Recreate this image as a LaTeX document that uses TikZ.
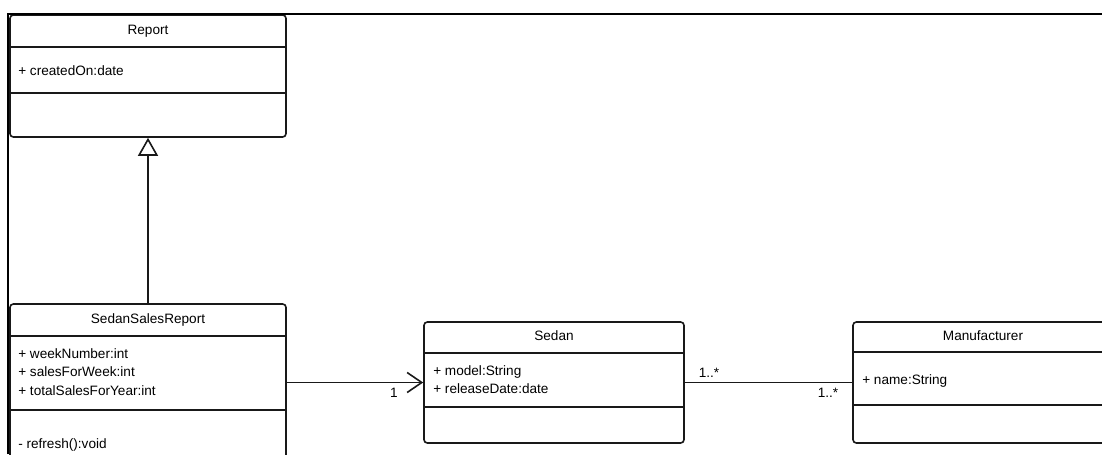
\documentclass[tikz,border=0pt]{standalone}
\usepackage{fontspec}
\setmainfont{Liberation Sans}
\usetikzlibrary{arrows.meta}
\newcommand\umlfont{\fontsize{10.2pt}{13.9pt}\selectfont}
\begin{document}
\begin{tikzpicture}[x=0.75pt,y=-0.75pt,
  classbox/.style={draw=black!90, line width=1.2pt, rounded corners=2.5pt, inner sep=0pt, fill=white},
  divider/.style={draw=black!90, line width=1.2pt},
  txt/.style={inner sep=0pt, font=\umlfont, text=black},
  title/.style={txt, anchor=base},
  member/.style={txt, anchor=base west},
  conn/.style={draw=black!90, line width=1.2pt},
  frameline/.style={draw=black, line width=1.6pt}
]
\useasboundingbox (0,0) rectangle (1102,454);
\fill[white] (0,0) rectangle (1102,454);
\clip (0,0) rectangle (1102,454);

% class boxes
\node[classbox, minimum width=207pt, minimum height=91.5pt]   (report) at (148,76) {};
\node[classbox, minimum width=207pt, minimum height=128.25pt] (ssr)    at (148,389.5) {};
\node[classbox, minimum width=195pt, minimum height=90.75pt]  (sedan)  at (554,382.5) {};
\node[classbox, minimum width=195pt, minimum height=90.75pt]  (mfr)    at (983,382.5) {};

% compartment dividers
\draw[divider] ([yshift=-24.75pt]report.north west) -- ([yshift=-24.75pt]report.north east);
\draw[divider] ([yshift=-59.25pt]report.north west) -- ([yshift=-59.25pt]report.north east);
\draw[divider] ([yshift=-24.75pt]ssr.north west) -- ([yshift=-24.75pt]ssr.north east);
\draw[divider] ([yshift=-80.25pt]ssr.north west) -- ([yshift=-80.25pt]ssr.north east);
\draw[divider] ([yshift=-24pt]sedan.north west) -- ([yshift=-24pt]sedan.north east);
\draw[divider] ([yshift=-64.5pt]sedan.north west) -- ([yshift=-64.5pt]sedan.north east);
\draw[divider] ([yshift=-23.25pt]mfr.north west) -- ([yshift=-23.25pt]mfr.north east);
\draw[divider] ([yshift=-63pt]mfr.north west) -- ([yshift=-63pt]mfr.north east);

% Report
\node[title]  (report-name) at (148,34) {Report};
\node[member] (report-a1)   at (18,75)  {+ createdOn:date};

% SedanSalesReport
\node[title]  (ssr-name) at (148,323) {SedanSalesReport};
\node[member] (ssr-a1)   at (18,358)  {+ weekNumber:int};
\node[member] (ssr-a2)   at (18,376.5) {+ salesForWeek:int};
\node[member] (ssr-a3)   at (18,395)  {+ totalSalesForYear:int};
\node[member] (ssr-m1)   at (18,448)  {- refresh():void};

% Sedan
\node[title]  (sedan-name) at (554,340) {Sedan};
\node[member] (sedan-a1)   at (433,375) {+ model:String};
\node[member] (sedan-a2)   at (433,393.5) {+ releaseDate:date};

% Manufacturer
\node[title]  (mfr-name) at (983,340) {Manufacturer};
\node[member] (mfr-a1)   at (862,384) {+ name:String};

% relationships
\draw[conn, -{Triangle[open, length=13.5pt, width=15pt]}] (ssr.north) -- (report.south);
\draw[conn, -{Straight Barb[length=11pt, width=15pt]}] (ssr.east |- sedan.west) -- (sedan.west);
\draw[conn] (sedan.east) -- (mfr.west);

% multiplicities
\node[txt] (mult-sedan-in)  at (394,393) {1};
\node[txt] (mult-sedan-out) at (709,373) {1..*};
\node[txt] (mult-mfr-in)    at (828,393) {1..*};

% outer frame
\draw[frameline] (8,454) -- (8,13.7) -- (1102,13.7);
\end{tikzpicture}
\end{document}
